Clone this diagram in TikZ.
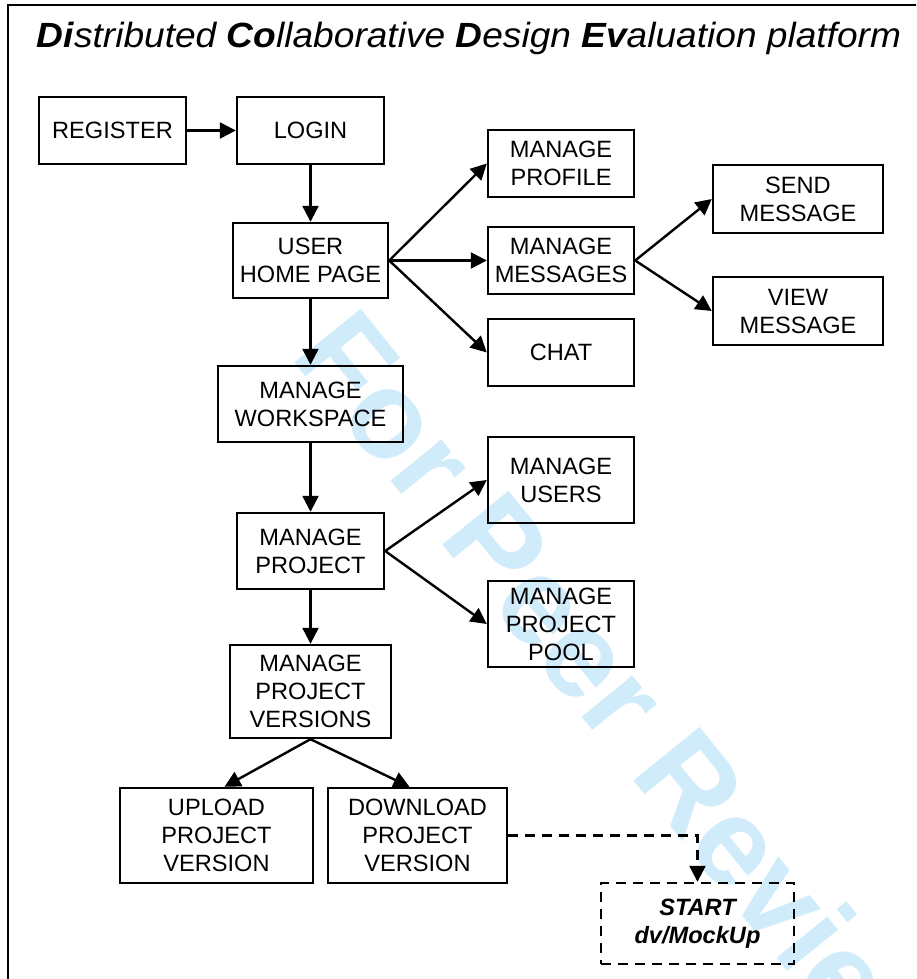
\documentclass[tikz,border=0pt]{standalone}
\usepackage{fontspec}
\setmainfont{Liberation Sans}
\usetikzlibrary{arrows.meta, positioning, calc}
\definecolor{peerblue}{RGB}{208, 236, 251}
\tikzset{
    stepbox/.style={rectangle, draw=black, line width=1.2pt, align=center, inner sep=0pt,
                    font=\fontsize{11.8}{14}\selectfont},
    startbox/.style={stepbox, dashed, dash pattern=on 5pt off 3.5pt,
                     font=\fontsize{11.8}{14}\selectfont\bfseries\itshape},
    arrow/.style={-{Triangle[length=8pt, width=8pt]}, line width=1.2pt},
    dasharrow/.style={arrow, dash pattern=on 5pt off 3.5pt},
}

\begin{document}
\begin{tikzpicture}[x=0.5pt, y=-0.5pt]
    \useasboundingbox (0,0) rectangle (916,979);
    \clip (0,0) rectangle (916,979);
    % watermark and frame
    \node[rotate=-51, text=peerblue, font=\fontsize{62}{62}\selectfont\bfseries] (wmark) at (628,704) {For Peer Review};
    \draw[line width=1.2pt] (8,1000) -- (8,5) -- (930,5);
    \node[anchor=base, xscale=1.06, font=\fontsize{17.5}{20}\selectfont\itshape] (title) at (469,48)
        {\textbf{Di}stributed \textbf{Co}llaborative \textbf{D}esign \textbf{Ev}aluation platform};

    % main column
    \node[stepbox, minimum width=73.5pt, minimum height=33.5pt] (register) at (112.5,130.5) {REGISTER};
    \node[stepbox, minimum width=73.5pt, minimum height=33.5pt] (login) at (310.5,130.5) {LOGIN};
    \node[stepbox, minimum width=77.5pt, minimum height=37.5pt] (home) at (310.5,260.5) {USER\\HOME PAGE};
    \node[stepbox, minimum width=92.5pt, minimum height=38pt] (workspace) at (310.5,404) {MANAGE\\WORKSPACE};
    \node[stepbox, minimum width=73.5pt, minimum height=38pt] (project) at (310.5,551) {MANAGE\\PROJECT};
    \node[stepbox, minimum width=80.5pt, minimum height=46.5pt] (versions) at (310.5,691.5) {MANAGE\\PROJECT\\VERSIONS};
    \node[stepbox, minimum width=96.5pt, minimum height=47.5pt] (upload) at (216.5,835.5) {UPLOAD\\PROJECT\\VERSION};
    \node[stepbox, minimum width=89.5pt, minimum height=47.5pt] (download) at (417.5,835.5) {DOWNLOAD\\PROJECT\\VERSION};
    \node[startbox, minimum width=96.5pt, minimum height=40.5pt] (start) at (697.5,923.5) {START\\dv/MockUp};

    % branches
    \node[stepbox, minimum width=73pt, minimum height=33.5pt] (profile) at (561,163.5) {MANAGE\\PROFILE};
    \node[stepbox, minimum width=73pt, minimum height=33.5pt] (messages) at (561,260.5) {MANAGE\\MESSAGES};
    \node[stepbox, minimum width=73pt, minimum height=33.5pt] (chat) at (561,352.5) {CHAT};
    \node[stepbox, minimum width=85pt, minimum height=34pt] (send) at (798,199) {SEND\\MESSAGE};
    \node[stepbox, minimum width=85pt, minimum height=34pt] (view) at (798,311) {VIEW\\MESSAGE};
    \node[stepbox, minimum width=73pt, minimum height=43pt] (users) at (561,480) {MANAGE\\USERS};
    \node[stepbox, minimum width=73pt, minimum height=43pt] (pool) at (561,624) {MANAGE\\PROJECT\\POOL};

    \draw[arrow] (register) -- (login);
    \draw[arrow] (login) -- (home);
    \draw[arrow] (home) -- (workspace);
    \draw[arrow] (workspace) -- (project);
    \draw[arrow] (project) -- (versions);
    \draw[arrow] (home.east) -- (profile.west);
    \draw[arrow] (home.east) -- (messages.west);
    \draw[arrow] (home.east) -- (chat.west);
    \draw[arrow] (messages.east) -- (send.west);
    \draw[arrow] (messages.east) -- (view.west);
    \draw[arrow] (project.east) -- (users.west);
    \draw[arrow] (project.east) -- (pool.west);
    \draw[arrow] (versions.south) -- ([xshift=4pt]upload.north);
    \draw[arrow] (versions.south) -- ([xshift=-4pt]download.north);
    \draw[dasharrow] (download.east) -| (start.north);
\end{tikzpicture}
\end{document}
